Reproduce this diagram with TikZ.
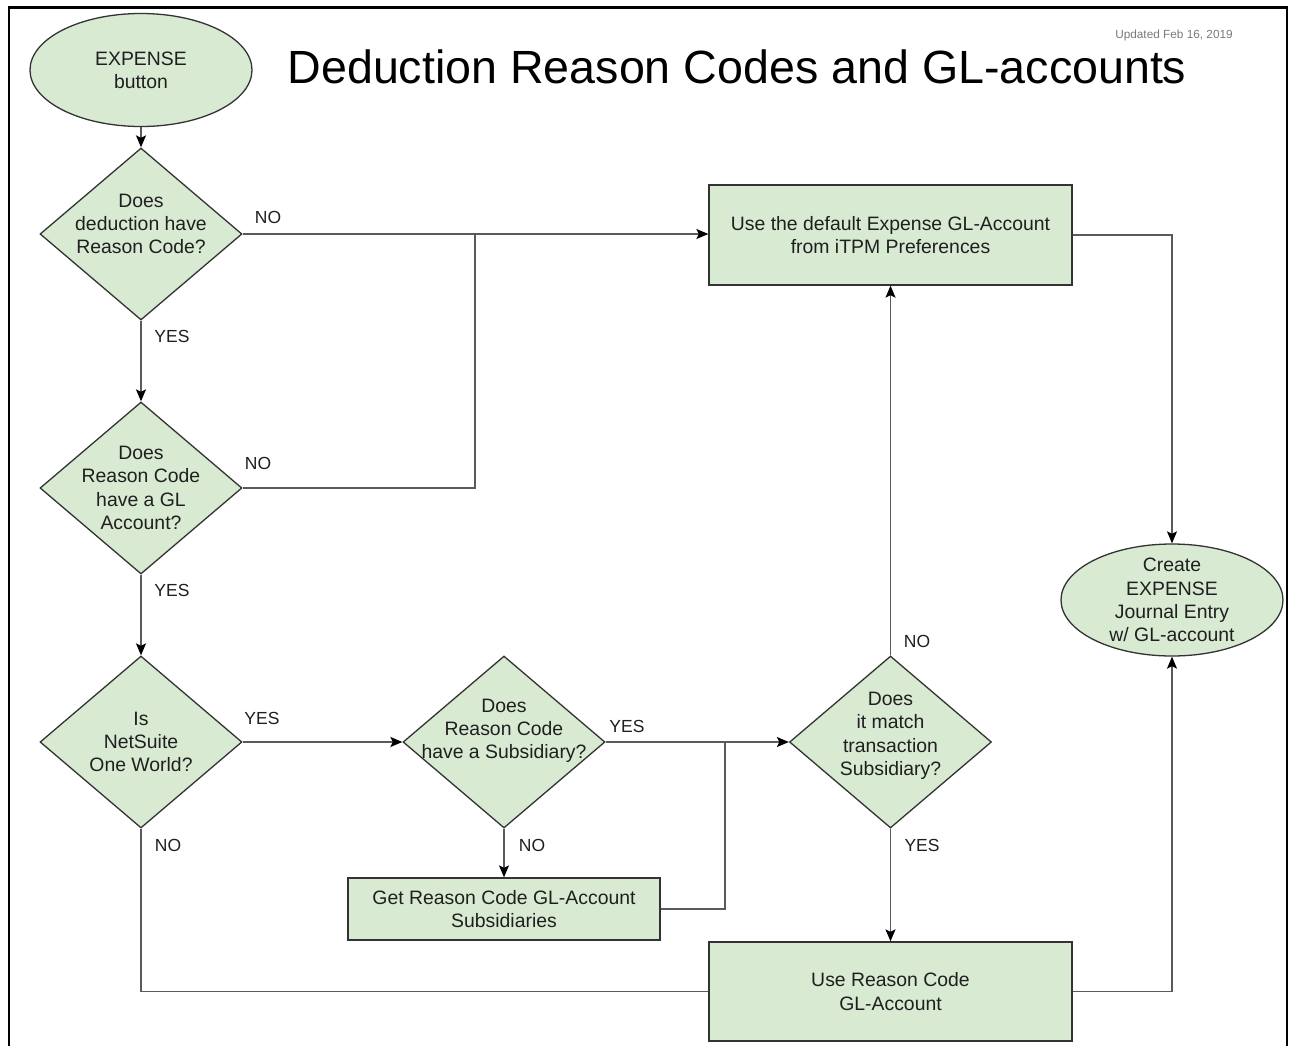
\documentclass[tikz,border=0pt]{standalone}
\usepackage{fontspec}
\setmainfont{Liberation Sans}
\usetikzlibrary{shapes.geometric,arrows.meta}
\definecolor{nodefill}{HTML}{D9EAD3}
\definecolor{nodeline}{HTML}{333333}
\definecolor{connline}{HTML}{5A5A5A}
\definecolor{txt}{HTML}{1F1F1F}
\definecolor{updgray}{HTML}{7A7A7A}
\begin{document}
\begin{tikzpicture}[x=1pt,y=-1pt,
  base/.style={draw=nodeline, fill=nodefill, line width=1.3pt, text=txt,
    font=\fontsize{19.4}{23.3}\selectfont, align=center},
  diam/.style={base, diamond, inner sep=-30pt, minimum width=202pt, minimum height=172pt},
  oval/.style={base, ellipse, inner sep=-25pt, minimum width=222pt, minimum height=113pt},
  box/.style={base, rectangle, inner sep=0pt},
  lbl/.style={font=\fontsize{17.5}{21}\selectfont, text=txt, inner sep=0pt},
  conn/.style={draw=connline, line width=1.6pt},
  arr/.style={conn, -{Stealth[length=12pt,width=10pt,inset=2.5pt,color=black]}},
]
\useasboundingbox (0,0) rectangle (1293,1045);
\fill[white] (0,0) rectangle (1293,1045);
\draw[line width=2.5pt,black] (9,1050) -- (9,7.5) -- (1287,7.5) -- (1287,1050);

% title
\node[font=\fontsize{46.6}{56}\selectfont, text=black, inner sep=0pt] (title) at (737,67) {Deduction Reason Codes and GL-accounts};
\node[font=\fontsize{11.8}{14}\selectfont, text=updgray, inner sep=0pt] (upd) at (1174,35) {Updated Feb 16, 2019};

% nodes
\node[oval] (e1) at (141,70) {EXPENSE\\button};
\node[diam] (d1) at (141,234) {Does\\deduction have\\Reason Code?\\[-3pt]\mbox{}};
\node[diam] (d2) at (141,488) {Does\\Reason Code\\have a GL\\Account?};
\node[diam] (d3) at (141,742) {Is\\NetSuite\\One World?};
\node[diam] (d4) at (504,742) {Does\\Reason Code\\have a Subsidiary?\\[3pt]\mbox{}};
\node[diam] (d5) at (890.5,742) {Does\\it match\\transaction\\Subsidiary?\\[-7pt]\mbox{}};
\node[box, minimum width=363pt, minimum height=100pt] (dflt) at (890.5,235) {Use the default Expense GL-Account\\from iTPM Preferences};
\node[box, minimum width=312pt, minimum height=62pt] (get) at (504,909) {Get Reason Code GL-Account\\Subsidiaries};
\node[box, minimum width=363pt, minimum height=99pt] (userc) at (890.5,991.5) {Use Reason Code\\GL-Account};
\node[oval, minimum height=112pt] (e2) at (1172,600) {Create\\EXPENSE\\Journal Entry\\w/ GL-account};

% junction points
\coordinate (j1) at (475,235);
\coordinate (j2) at (725,742);

% connectors
\draw[arr] (e1) -- (d1);
\draw[arr] (d1.east) -- (d1.east -| dflt.west);
\draw[conn] (d2.east) -| (j1);
\draw[arr] (d1) -- (d2);
\draw[arr] (d2) -- (d3);
\draw[arr] (d3) -- (d4);
\draw[arr] (d4) -- (d5);
\draw[arr] (d4) -- (get);
\draw[conn] (get.east) -| (j2);
\draw[arr] (d5) -- (dflt);
\draw[arr] (d5) -- (userc);
\draw[conn] (d3.south) |- (userc.west);
\draw[arr] (dflt.east) -| (e2.north);
\draw[arr] (userc.east) -| (e2.south);

% connector labels
\node[lbl] (l1) at (268,217) {NO};
\node[lbl] (l2) at (258,463) {NO};
\node[lbl] (l3) at (172,336) {YES};
\node[lbl] (l4) at (172,590) {YES};
\node[lbl] (l5) at (262,718) {YES};
\node[lbl] (l6) at (627,726) {YES};
\node[lbl] (l7) at (532,845) {NO};
\node[lbl] (l8) at (917,641) {NO};
\node[lbl] (l9) at (922,845) {YES};
\node[lbl] (l10) at (168,845) {NO};
\end{tikzpicture}
\end{document}
